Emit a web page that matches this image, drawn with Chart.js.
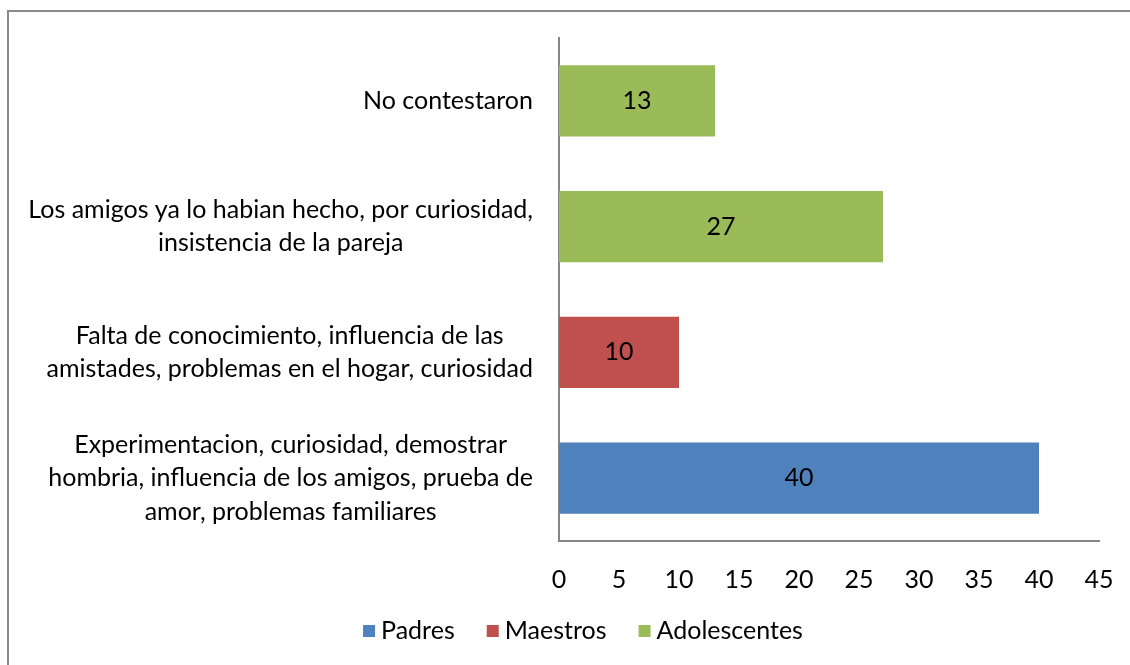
<!DOCTYPE html>
<html>
<head>
<meta charset="utf-8">
<script src="https://cdn.jsdelivr.net/npm/chart.js@4.4.1/dist/chart.umd.min.js"></script>
<style>
	html, body { margin: 0; padding: 0; background: #fff; overflow: hidden; }
</style>
</head>
<body>
<canvas id="reasonsChart" width="1130" height="665"></canvas>
<script>
const categories = [
	['No contestaron'],
	['Los amigos ya lo habian hecho, por curiosidad,', 'insistencia de la pareja'],
	['Falta de conocimiento, influencia de las', 'amistades, problemas en el hogar, curiosidad'],
	['Experimentacion, curiosidad, demostrar', 'hombria, influencia de los amigos, prueba de', 'amor, problemas familiares']
];
const padres = [null, null, null, 40];
const maestros = [null, null, 10, null];
const adolescentes = [13, 27, null, null];
const xTicks = [0, 5, 10, 15, 20, 25, 30, 35, 40, 45];

const FONT = 'Lato, "Open Sans", sans-serif';
const FONT_SIZE = 25;

// outer chart frame (only its left and top edges are in view)
const outerFrame = {
	id: 'outerFrame',
	beforeDraw(chart) {
		const ctx = chart.ctx;
		ctx.save();
		ctx.strokeStyle = '#8a8a8a';
		ctx.lineWidth = 2;
		ctx.beginPath();
		ctx.moveTo(8, chart.height);
		ctx.lineTo(8, 11);
		ctx.lineTo(chart.width, 11);
		ctx.stroke();
		ctx.restore();
	}
};

// Excel-style labels: lines centered on each other, block right-aligned to the axis
const categoryLabels = {
	id: 'categoryLabels',
	afterDraw(chart) {
		const ctx = chart.ctx;
		const yScale = chart.scales.y;
		const right = chart.chartArea.left - 26;
		const lineH = 33.5;
		ctx.save();
		ctx.font = FONT_SIZE + 'px ' + FONT;
		ctx.fillStyle = '#000';
		ctx.textAlign = 'center';
		ctx.textBaseline = 'middle';
		categories.forEach(function(lines, i) {
			const cy = yScale.getPixelForValue(i);
			let w = 0;
			lines.forEach(function(l) { w = Math.max(w, ctx.measureText(l).width); });
			const cx = right - w / 2;
			lines.forEach(function(l, j) {
				ctx.fillText(l, cx, cy + (j - (lines.length - 1) / 2) * lineH);
			});
		});
		ctx.restore();
	}
};

// value labels in the middle of each bar
const valueLabels = {
	id: 'valueLabels',
	afterDatasetsDraw(chart) {
		const ctx = chart.ctx;
		ctx.save();
		ctx.font = FONT_SIZE + 'px ' + FONT;
		ctx.fillStyle = '#000';
		ctx.textAlign = 'center';
		ctx.textBaseline = 'middle';
		chart.data.datasets.forEach(function(ds, di) {
			chart.getDatasetMeta(di).data.forEach(function(bar, i) {
				const v = ds.data[i];
				if (v === null) return;
				ctx.fillText(String(v), (bar.x + bar.base) / 2, bar.y);
			});
		});
		ctx.restore();
	}
};

// legend centred under the whole figure, like the Excel original
const bottomLegend = {
	id: 'bottomLegend',
	afterDraw(chart) {
		const ctx = chart.ctx;
		const box = 12, gapText = 6, gapItem = 32;
		const centerX = 583, y = 631;
		ctx.save();
		ctx.font = FONT_SIZE + 'px ' + FONT;
		ctx.textBaseline = 'middle';
		ctx.textAlign = 'left';
		const items = chart.data.datasets.map(function(ds) {
			return { text: ds.label, color: ds.backgroundColor, w: ctx.measureText(ds.label).width };
		});
		let total = 0;
		items.forEach(function(it, i) { total += box + gapText + it.w + (i ? gapItem : 0); });
		let x = centerX - total / 2;
		items.forEach(function(it) {
			ctx.fillStyle = it.color;
			ctx.fillRect(x, y - box / 2, box, box);
			ctx.fillStyle = '#000';
			ctx.fillText(it.text, x + box + gapText, y);
			x += box + gapText + it.w + gapItem;
		});
		ctx.restore();
	}
};

const ctx = document.getElementById('reasonsChart').getContext('2d');
new Chart(ctx, {
	type: 'bar',
	data: {
		labels: categories.map(function(c) { return c.join(' '); }),
		datasets: [{
			label: 'Padres',
			data: padres,
			backgroundColor: '#4F81BD'
		}, {
			label: 'Maestros',
			data: maestros,
			backgroundColor: '#C0504D'
		}, {
			label: 'Adolescentes',
			data: adolescentes,
			backgroundColor: '#9BBB59'
		}]
	},
	plugins: [outerFrame, categoryLabels, valueLabels, bottomLegend],
	options: {
		indexAxis: 'y',
		responsive: false,
		animation: false,
		categoryPercentage: 1,
		barPercentage: 0.565,
		layout: {
			padding: { left: 559, top: 38, right: 31, bottom: 46 }
		},
		plugins: {
			legend: { display: false },
			tooltip: { enabled: false }
		},
		scales: {
			x: {
				stacked: true,
				min: 0,
				max: 45,
				afterBuildTicks: function(scale) {
					scale.ticks = xTicks.map(function(v) { return { value: v }; });
				},
				afterFit: function(scale) {
					scale.paddingLeft = 0;
					scale.paddingRight = 0;
				},
				grid: { display: false, drawTicks: false },
				border: { display: true, color: '#868686', width: 2 },
				ticks: {
					padding: 24,
					color: '#000',
					font: { family: FONT, size: FONT_SIZE }
				}
			},
			y: {
				stacked: true,
				grid: { display: false, drawTicks: false },
				border: { display: true, color: '#868686', width: 2 },
				ticks: { display: false }
			}
		}
	}
});
</script>
</body>
</html>
